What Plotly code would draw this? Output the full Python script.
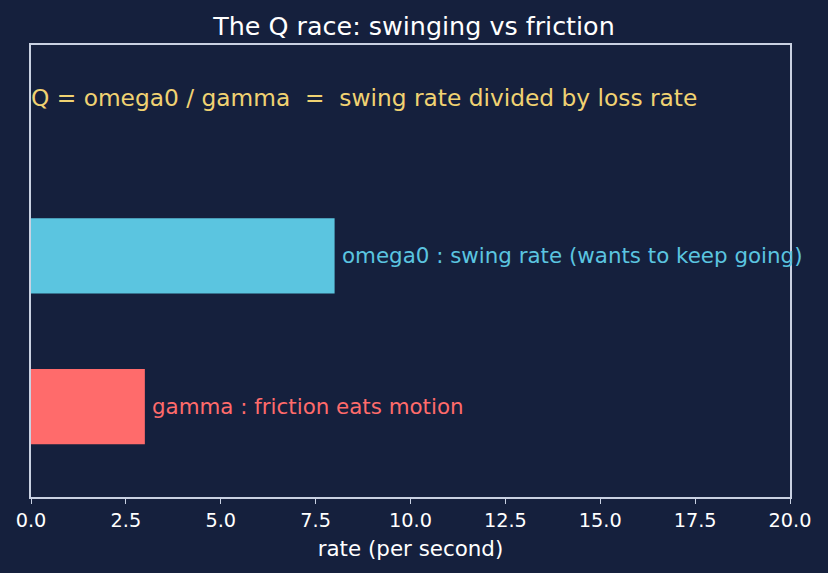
import plotly.graph_objects as go

names = ["gamma", "omega0"]
positions = [0, 1]
values = [3, 8]
labels = ["gamma : friction eats motion", "omega0 : swing rate (wants to keep going)"]
colors = ["#ff6b6b", "#5bc5e0"]
title = "The Q race: swinging vs friction"
note = "Q = omega0 / gamma  =  swing rate divided by loss rate"
xticks = [0, 2.5, 5, 7.5, 10, 12.5, 15, 17.5, 20]
xticktext = ["0.0", "2.5", "5.0", "7.5", "10.0", "12.5", "15.0", "17.5", "20.0"]

BG = "#15203d"
FG = "#ffffff"
SPINE = "#c9d1e2"
FONT = "DejaVu Sans"

fig = go.Figure()
fig.add_trace(go.Bar(
    x=values, y=positions, orientation="h", width=0.5,
    marker=dict(color=colors, line=dict(width=0)),
    hoverinfo="skip", showlegend=False,
))

for v, p, lab, c in zip(values, positions, labels, colors):
    fig.add_annotation(x=v + 0.2, y=p, text=lab, showarrow=False,
                       xanchor="left", yanchor="middle", xref="x", yref="y",
                       xshift=-2, font=dict(family=FONT, size=21.4, color=c))

fig.add_annotation(x=0, y=2.05, text=note, showarrow=False,
                   xanchor="left", yanchor="middle", xref="x", yref="y",
                   xshift=-2, font=dict(family=FONT, size=23.3, color="#f0d272"))

fig.update_layout(
    width=828, height=573,
    paper_bgcolor=BG, plot_bgcolor=BG,
    margin=dict(l=31, r=38, t=45, b=76),
    title=dict(text=title, x=0.5, xanchor="center", y=1 - 26 / 573, yanchor="middle",
               font=dict(family=FONT, size=25.4, color=FG)),
    font=dict(family=FONT, color=FG),
    xaxis=dict(range=[0, 20], tickvals=xticks, ticktext=xticktext,
               showgrid=False, zeroline=False, showline=True, linecolor=SPINE, linewidth=1.5,
               mirror=True, ticks="outside", ticklen=5, tickcolor=SPINE, tickwidth=1.2,
               tickfont=dict(family=FONT, size=19.3, color=FG),
               title=dict(text="rate (per second)", font=dict(family=FONT, size=21.4, color=FG), standoff=10)),
    yaxis=dict(range=[-0.6, 2.4], showticklabels=False, ticks="", showgrid=False, zeroline=False,
               showline=True, linecolor=SPINE, linewidth=1.5, mirror=True),
)

fig.write_html("out.html")
